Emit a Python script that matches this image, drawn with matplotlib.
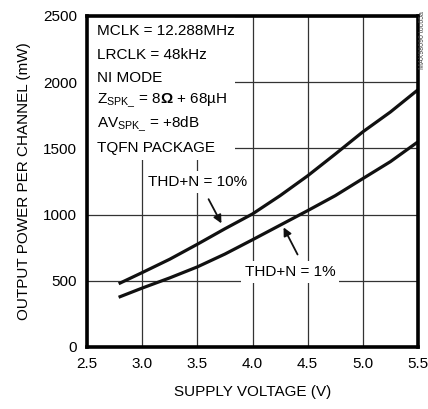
import matplotlib
matplotlib.use("Agg")
import matplotlib.pyplot as plt
from matplotlib.patches import Rectangle

plt.rcParams['font.family'] = ['Liberation Sans', 'DejaVu Sans']
plt.rcParams['mathtext.fontset'] = 'custom'
plt.rcParams['mathtext.rm'] = 'Liberation Sans'
plt.rcParams['mathtext.it'] = 'Liberation Sans'
plt.rcParams['mathtext.bf'] = 'Liberation Sans:bold'

# data
voltage = [2.8, 3.0, 3.25, 3.5, 3.75, 4.0, 4.25, 4.5, 4.75, 5.0, 5.25, 5.5]
thdn_10 = [483, 562, 663, 776, 893, 1005, 1143, 1293, 1457, 1625, 1775, 1943]
thdn_1 = [380, 445, 522, 605, 702, 810, 920, 1030, 1143, 1272, 1400, 1550]

xticks = [2.5, 3.0, 3.5, 4.0, 4.5, 5.0, 5.5]
yticks = [0, 500, 1000, 1500, 2000, 2500]

conditions = ["MCLK = 12.288MHz",
              "LRCLK = 48kHz",
              "NI MODE",
              r"Z$_{\mathrm{SPK\_}}$ = 8$\mathbf{\Omega}$ + 68µH",
              r"AV$_{\mathrm{SPK\_}}$ = +8dB",
              "TQFN PACKAGE"]

fs = 11

fig = plt.figure(figsize=(4.28, 4.09), dpi=100)
ax = fig.add_axes([87 / 428, 1 - 347 / 409, 331 / 428, 331 / 409])

ax.plot(voltage, thdn_10, color='#111111', lw=2.3, zorder=3)
ax.plot(voltage, thdn_1, color='#111111', lw=2.3, zorder=3)

ax.set_xlim(2.5, 5.5)
ax.set_ylim(0, 2500)
ax.set_xticks(xticks)
ax.set_xticklabels(["%.1f" % v for v in xticks])
ax.set_yticks(yticks)
ax.grid(True, color='#333333', lw=0.9)
ax.tick_params(length=0, labelsize=fs, pad=7)
for s in ax.spines.values():
    s.set_linewidth(2.6)
    s.set_zorder(5)

ax.set_xlabel("SUPPLY VOLTAGE (V)", fontsize=fs, labelpad=10)
ax.set_ylabel("OUTPUT POWER PER CHANNEL (mW)", fontsize=fs, labelpad=9)

# white area behind the condition text
ax.add_patch(Rectangle((2.5, 1410), 1.34, 1090, facecolor='white',
                       edgecolor='none', zorder=2))
for i, line in enumerate(conditions):
    ax.text(2.59, 2385 - i * 176, line, fontsize=fs, va='center', ha='left', zorder=4)

box = dict(facecolor='white', edgecolor='none', pad=3)
ax.text(3.5, 1245, "THD+N = 10%", fontsize=fs, ha='center', va='center',
        bbox=box, zorder=4)
ax.text(4.34, 566, "THD+N = 1%", fontsize=fs, ha='center', va='center',
        bbox=box, zorder=4)

arrow = dict(arrowstyle='-|>', color='#111111', lw=1.3, mutation_scale=12)
ax.annotate("", xy=(3.73, 915), xytext=(3.59, 1135), arrowprops=arrow, zorder=4)
ax.annotate("", xy=(4.27, 922), xytext=(4.42, 680), arrowprops=arrow, zorder=4)

fig.text(423 / 428, 1 - 40 / 409, "MAX98090 toc65a", rotation=90, fontsize=5,
         ha='center', va='center', color='#444444')

fig.savefig("out.png", dpi=100)
